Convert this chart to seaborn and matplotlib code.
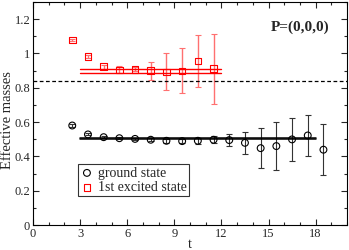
import numpy as np
import pandas as pd
import matplotlib
matplotlib.use("Agg")
import matplotlib.pyplot as plt
import seaborn as sns
from matplotlib.ticker import MultipleLocator, FixedLocator

sns.set_theme(style="ticks")
plt.rcParams['font.family'] = ['Liberation Serif', 'DejaVu Serif']
plt.rcParams['mathtext.fontset'] = 'stix'

# ground state
t_g = [2.5, 3.5, 4.5, 5.5, 6.5, 7.5, 8.5, 9.5, 10.5, 11.5, 12.5, 13.5, 14.5, 15.5, 16.5, 17.5, 18.5]
m_g = [0.580, 0.528, 0.512, 0.506, 0.502, 0.497, 0.491, 0.489, 0.491, 0.497, 0.495, 0.479, 0.448, 0.460, 0.499, 0.522, 0.439]
e_g = [0.006, 0.006, 0.006, 0.007, 0.008, 0.009, 0.011, 0.013, 0.016, 0.020, 0.034, 0.064, 0.116, 0.140, 0.126, 0.118, 0.150]
# 1st excited state
t_e = [2.5, 3.5, 4.5, 5.5, 6.5, 7.5, 8.5, 9.5, 10.5, 11.5]
m_e = [1.078, 0.981, 0.923, 0.904, 0.908, 0.900, 0.893, 0.899, 0.957, 0.912]
e_e = [0.006, 0.008, 0.012, 0.020, 0.012, 0.052, 0.107, 0.130, 0.153, 0.204]
# fits
fit_g_range = [3, 18]
fit_g = [0.503, 0.509]
fit_e_range = [3, 12]
fit_e = [0.889, 0.908]
threshold = 0.842

df_g = pd.DataFrame({"t": t_g, "m": m_g, "e": e_g})
df_e = pd.DataFrame({"t": t_e, "m": m_e, "e": e_e})

fig = plt.figure(figsize=(3.49, 2.5), dpi=100)
ax = fig.add_axes([33/349, 25/250, 314/349, 223/250])

red = "#ff0000"
ax.errorbar(df_e["t"], df_e["m"], yerr=df_e["e"], fmt="none", ecolor="#ff7070",
            elinewidth=1.0, capsize=2.5, capthick=0.8, zorder=2)
ax.errorbar(df_g["t"], df_g["m"], yerr=df_g["e"], fmt="none", ecolor="#333333",
            elinewidth=0.8, capsize=2.5, capthick=0.8, zorder=2)

sns.scatterplot(data=df_g, x="t", y="m", ax=ax, marker="o", s=24,
                facecolor="none", edgecolor="black", linewidth=0.8,
                label="ground state", zorder=3)
sns.scatterplot(data=df_e, x="t", y="m", ax=ax, marker="s", s=22,
                facecolor="none", edgecolor=red, linewidth=0.8,
                label="1st excited state", zorder=3)

for v in fit_g:
    sns.lineplot(x=fit_g_range, y=[v, v], ax=ax, color="black", linewidth=1.1, legend=False)
for v in fit_e:
    sns.lineplot(x=fit_e_range, y=[v, v], ax=ax, color=red, linewidth=1.0, legend=False)
ax.axhline(threshold, color="black", linestyle=(0, (3, 2)), linewidth=0.9)

ax.set_xlim(0, 20)
ax.set_ylim(0, 1.3)
ax.xaxis.set_major_locator(MultipleLocator(3))
ax.xaxis.set_minor_locator(MultipleLocator(1))
ax.yaxis.set_major_locator(FixedLocator([0, 0.2, 0.4, 0.6, 0.8, 1.0, 1.2]))
ax.yaxis.set_minor_locator(MultipleLocator(0.1))
ax.set_yticklabels(["0", "0.2", "0.4", "0.6", "0.8", "1", "1.2"])
ax.tick_params(which="both", direction="in", top=True, right=True, labelsize=9, pad=2)
ax.tick_params(which="major", length=4, width=0.8)
ax.tick_params(which="minor", length=2, width=0.8)
for s in ax.spines.values():
    s.set_linewidth(0.8)
    s.set_color("black")

ax.set_xlabel("t", fontsize=10, labelpad=-1.5)
ax.set_ylabel("Effective masses", fontsize=10.5)
ax.yaxis.set_label_coords(-0.06, 0.47)
ax.text(0.943, 0.888, "P=(0,0,0)", transform=ax.transAxes, ha="right", va="center",
        fontsize=11, fontweight="bold")

leg = ax.legend(loc="lower left", bbox_to_anchor=(0.143, 0.13), fontsize=10, frameon=True,
                fancybox=False, edgecolor="black", handletextpad=0.3, borderpad=0.15,
                labelspacing=0.1, handlelength=1.0, borderaxespad=0)
leg.get_frame().set_linewidth(0.8)

fig.savefig("out.png", dpi=100)
